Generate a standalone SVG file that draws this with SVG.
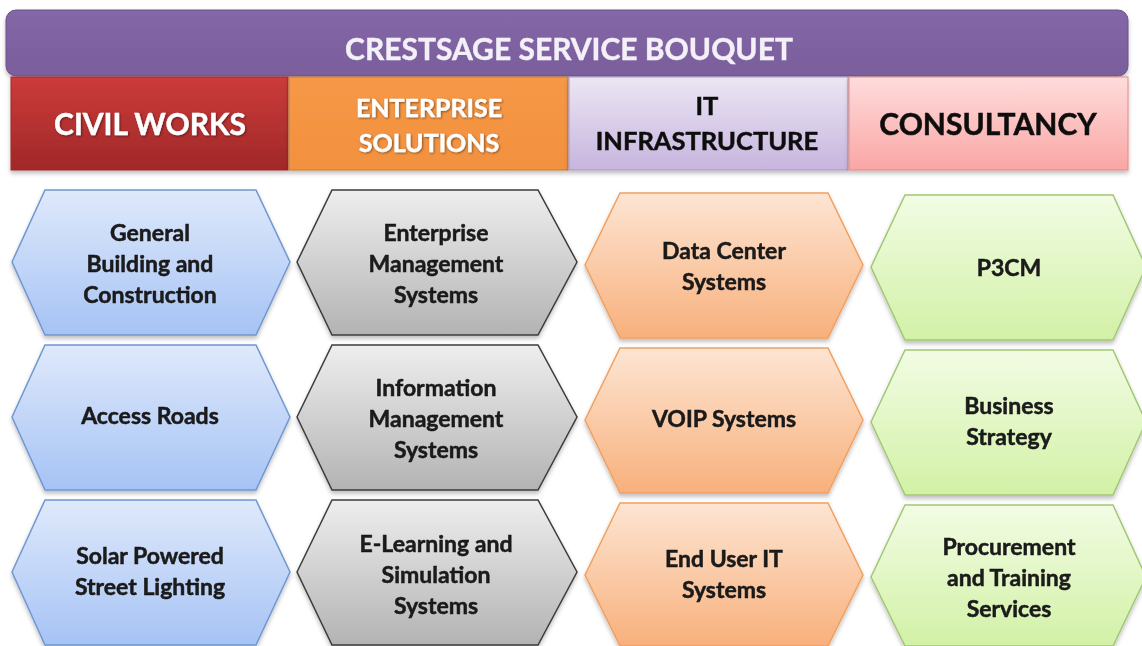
<svg xmlns="http://www.w3.org/2000/svg" width="1142" height="646" viewBox="0 0 1142 646">
<defs>
<linearGradient id="gTitle" x1="0" y1="0" x2="0" y2="1"><stop offset="0" stop-color="#8467a6"/><stop offset="1" stop-color="#7a5e9c"/></linearGradient>
<linearGradient id="gRed" x1="0" y1="0" x2="0" y2="1"><stop offset="0" stop-color="#cc3b3a"/><stop offset="1" stop-color="#a02828"/></linearGradient>
<linearGradient id="gOrange" x1="0" y1="0" x2="0" y2="1"><stop offset="0" stop-color="#f69846"/><stop offset="1" stop-color="#f29140"/></linearGradient>
<linearGradient id="gLav" x1="0" y1="0" x2="0" y2="1"><stop offset="0" stop-color="#ece6f4"/><stop offset="1" stop-color="#c7b5de"/></linearGradient>
<linearGradient id="gPink" x1="0" y1="0" x2="0" y2="1"><stop offset="0" stop-color="#ffdcdc"/><stop offset="1" stop-color="#f9a6a4"/></linearGradient>
<linearGradient id="gBlue" x1="0" y1="0" x2="0" y2="1"><stop offset="0" stop-color="#dfe9fb"/><stop offset="1" stop-color="#a6c3f5"/></linearGradient>
<linearGradient id="gGray" x1="0" y1="0" x2="0" y2="1"><stop offset="0" stop-color="#eeeeee"/><stop offset="1" stop-color="#b3b3b3"/></linearGradient>
<linearGradient id="gPeach" x1="0" y1="0" x2="0" y2="1"><stop offset="0" stop-color="#fde5d3"/><stop offset="1" stop-color="#f8b07c"/></linearGradient>
<linearGradient id="gGreen" x1="0" y1="0" x2="0" y2="1"><stop offset="0" stop-color="#f2fce4"/><stop offset="1" stop-color="#d2f1a6"/></linearGradient>
<filter id="sh" x="-10%" y="-10%" width="120%" height="130%"><feDropShadow dx="0" dy="3" stdDeviation="2" flood-color="#000" flood-opacity="0.25"/></filter>
<filter id="tsh" x="-10%" y="-20%" width="120%" height="140%"><feDropShadow dx="1" dy="1" stdDeviation="0.8" flood-color="#000" flood-opacity="0.45"/></filter>
</defs>
<style>
text{font-family:Lato,"Open Sans","Liberation Sans",sans-serif;font-weight:bold;text-anchor:middle;}
.ttl{font-size:30px;fill:#f4f0f8;stroke:#f4f0f8;stroke-width:0.4px;}
.hw{font-size:30px;fill:#ffffff;stroke:#ffffff;stroke-width:0.4px;}
.hw2{font-size:25px;fill:#ffffff;stroke:#ffffff;stroke-width:0.4px;}
.hd{font-size:30px;fill:#111111;stroke:#111111;stroke-width:0.5px;}
.hd2{font-size:25.5px;fill:#111111;stroke:#111111;stroke-width:0.5px;}
.hx{font-size:23px;fill:#1a1a1a;stroke:#1a1a1a;stroke-width:0.5px;}
.blue{fill:url(#gBlue);stroke:#6f97d0;stroke-width:1.5;}
.gray{fill:url(#gGray);stroke:#3c3c3c;stroke-width:1.5;}
.peach{fill:url(#gPeach);stroke:#f2a060;stroke-width:1.5;}
.green{fill:url(#gGreen);stroke:#a2c874;stroke-width:1.5;}
</style>
<rect x="0" y="0" width="1142" height="646" fill="#ffffff"/>
<g id="title" filter="url(#sh)">
<rect x="6" y="10" width="1122" height="66" rx="10" fill="url(#gTitle)" stroke="#6c5188" stroke-width="1"/>
<text class="ttl" x="569" y="60">CRESTSAGE SERVICE BOUQUET</text>
</g>
<g id="hdr-civil" filter="url(#sh)">
<rect x="11" y="77" width="277" height="93" fill="url(#gRed)" stroke="#9b2b2b" stroke-width="1"/>
<text class="hw" x="150" y="135" filter="url(#tsh)">CIVIL WORKS</text>
</g>
<g id="hdr-enterprise" filter="url(#sh)">
<rect x="289" y="77" width="279" height="93" fill="url(#gOrange)" stroke="#c9782e" stroke-width="1"/>
<text class="hw2" x="429" y="117" filter="url(#tsh)">ENTERPRISE</text>
<text class="hw2" x="429" y="152" filter="url(#tsh)">SOLUTIONS</text>
</g>
<g id="hdr-it" filter="url(#sh)">
<rect x="569" y="77" width="279" height="93" fill="url(#gLav)" stroke="#a997c4" stroke-width="1"/>
<text class="hd2" x="707" y="115">IT</text>
<text class="hd2" x="707" y="150">INFRASTRUCTURE</text>
</g>
<g id="hdr-consultancy" filter="url(#sh)">
<rect x="849" y="77" width="279" height="93" fill="url(#gPink)" stroke="#e38a88" stroke-width="1"/>
<text class="hd" x="988" y="135">CONSULTANCY</text>
</g>
<g id="connectors"></g>
<g id="n-general" filter="url(#sh)">
<polygon class="blue" points="12,262 45,190 256,190 290,262 256,335 45,335"/>
<text class="hx" x="150" y="241">General</text>
<text class="hx" x="150" y="272">Building and</text>
<text class="hx" x="150" y="303">Construction</text>
</g>
<g id="n-roads" filter="url(#sh)">
<polygon class="blue" points="12,417 45,345 256,345 290,417 256,490 45,490"/>
<text class="hx" x="150" y="424">Access Roads</text>
</g>
<g id="n-solar" filter="url(#sh)">
<polygon class="blue" points="12,572 45,500 256,500 290,572 256,645 45,645"/>
<text class="hx" x="150" y="564">Solar Powered</text>
<text class="hx" x="150" y="595">Street Lighting</text>
</g>
<g id="n-ems" filter="url(#sh)">
<polygon class="gray" points="297,262 332,190 538,190 577,262 538,335 332,335"/>
<text class="hx" x="436" y="241">Enterprise</text>
<text class="hx" x="436" y="272">Management</text>
<text class="hx" x="436" y="303">Systems</text>
</g>
<g id="n-ims" filter="url(#sh)">
<polygon class="gray" points="297,417 332,345 538,345 577,417 538,490 332,490"/>
<text class="hx" x="436" y="396">Information</text>
<text class="hx" x="436" y="427">Management</text>
<text class="hx" x="436" y="458">Systems</text>
</g>
<g id="n-elearn" filter="url(#sh)">
<polygon class="gray" points="297,572 332,500 538,500 577,572 538,645 332,645"/>
<text class="hx" x="436" y="552">E-Learning and</text>
<text class="hx" x="436" y="583">Simulation</text>
<text class="hx" x="436" y="614">Systems</text>
</g>
<g id="n-datacenter" filter="url(#sh)">
<polygon class="peach" points="585,265 620,193 828,193 863,265 828,338 620,338"/>
<text class="hx" x="724" y="259">Data Center</text>
<text class="hx" x="724" y="290">Systems</text>
</g>
<g id="n-voip" filter="url(#sh)">
<polygon class="peach" points="585,420 620,348 828,348 863,420 828,493 620,493"/>
<text class="hx" x="724" y="427">VOIP Systems</text>
</g>
<g id="n-enduser" filter="url(#sh)">
<polygon class="peach" points="585,575 620,503 828,503 863,575 828,646 620,646"/>
<text class="hx" x="724" y="567">End User IT</text>
<text class="hx" x="724" y="598">Systems</text>
</g>
<g id="n-p3cm" filter="url(#sh)">
<polygon class="green" points="871,267 905,195 1113,195 1146,267 1113,340 905,340"/>
<text class="hx" x="1009" y="276">P3CM</text>
</g>
<g id="n-strategy" filter="url(#sh)">
<polygon class="green" points="871,422 905,350 1113,350 1146,422 1113,495 905,495"/>
<text class="hx" x="1009" y="414">Business</text>
<text class="hx" x="1009" y="445">Strategy</text>
</g>
<g id="n-procure" filter="url(#sh)">
<polygon class="green" points="871,577 905,505 1113,505 1146,577 1113,646 905,646"/>
<text class="hx" x="1009" y="555">Procurement</text>
<text class="hx" x="1009" y="586">and Training</text>
<text class="hx" x="1009" y="617">Services</text>
</g>
</svg>
